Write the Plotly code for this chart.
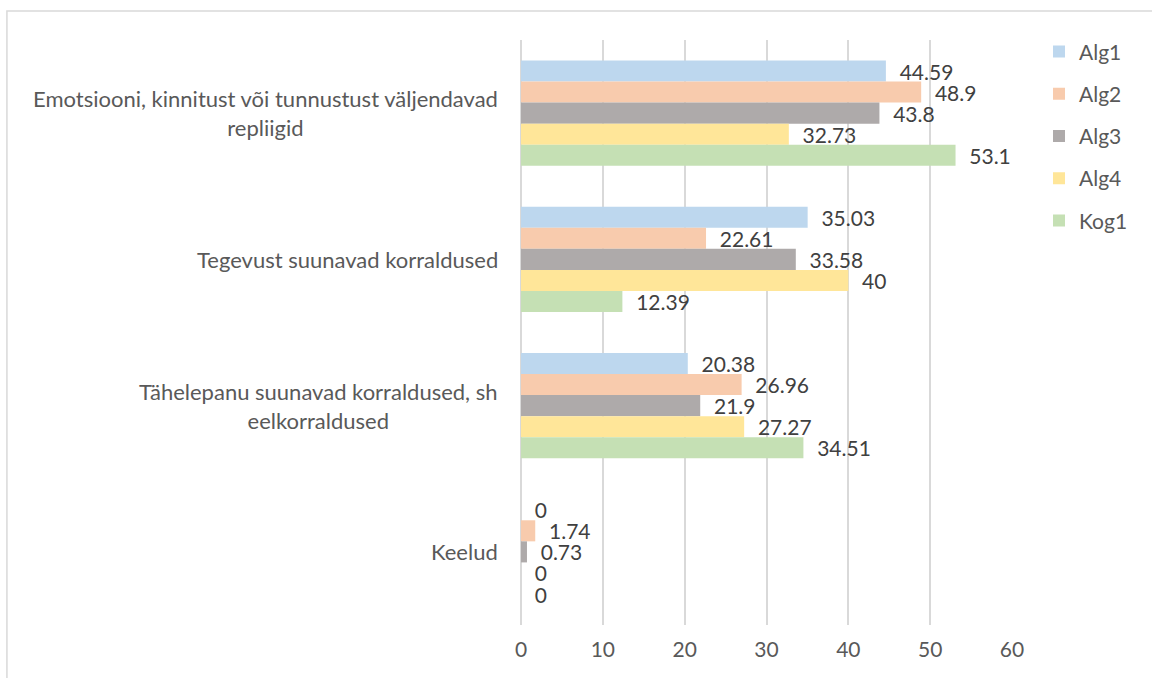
import plotly.graph_objects as go

# Categories (top to bottom) and series values
categories = [
    "Emotsiooni, kinnitust või tunnustust väljendavad<br>repliigid",
    "Tegevust suunavad korraldused",
    "Tähelepanu suunavad korraldused, sh<br>eelkorraldused",
    "Keelud",
]
series_names = ["Alg1", "Alg2", "Alg3", "Alg4", "Kog1"]
alg1 = [44.59, 35.03, 20.38, 0]
alg2 = [48.9, 22.61, 26.96, 1.74]
alg3 = [43.8, 33.58, 21.9, 0.73]
alg4 = [32.73, 40, 27.27, 0]
kog1 = [53.1, 12.39, 34.51, 0]
x_ticks = [0, 10, 20, 30, 40, 50, 60]

colors = ["#BDD7EE", "#F8CBAD", "#AEAAAA", "#FFE699", "#C5E0B4"]
FONT = "Lato, Open Sans, sans-serif"
FS = 22

fig = go.Figure()
for name, vals, col in zip(series_names, [alg1, alg2, alg3, alg4, kog1], colors):
    fig.add_trace(go.Bar(
        y=categories,
        x=vals,
        name=name,
        orientation="h",
        marker=dict(color=col, line_width=0),
        text=vals,
        texttemplate="  %{x}",
        textposition="outside",
        constraintext="none",
        textfont=dict(size=FS - 1, color="#404040", family=FONT),
        cliponaxis=False,
        legendgroup=name,
    ))

# category labels as centered multi-line annotations
for cat in categories:
    fig.add_annotation(
        x=-0.043, xref="paper", y=cat, yref="y",
        text=cat, showarrow=False, xanchor="right", align="center",
        font=dict(size=FS, color="#595959", family=FONT),
    )

# thin outer frame
fig.add_shape(type="rect", xref="paper", yref="paper",
              x0=-1.047, x1=1.3, y0=-0.1, y1=1.0496,
              line=dict(color="#D9D9D9", width=1.5))

fig.update_layout(
    width=1152, height=678,
    margin=dict(l=521, r=140, t=40, b=53),
    barmode="group",
    bargap=0.28,
    bargroupgap=0,
    plot_bgcolor="white",
    paper_bgcolor="white",
    font=dict(family=FONT, color="#595959", size=FS),
    legend=dict(
        x=1.055, y=1.015, xanchor="left", yanchor="top",
        font=dict(size=FS - 1, color="#595959", family=FONT),
        traceorder="grouped", tracegroupgap=12,
        itemwidth=30,
    ),
    xaxis=dict(
        range=[0, 60], tickvals=x_ticks,
        showgrid=True, gridcolor="#D9D9D9", gridwidth=1.5,
        zeroline=True, zerolinecolor="#D9D9D9", zerolinewidth=1.5,
        showline=False, ticks="", ticklabelstandoff=10,
        tickfont=dict(size=FS - 1, color="#595959", family=FONT),
    ),
    yaxis=dict(
        autorange="reversed", showticklabels=False,
        showgrid=False, showline=False, ticks="",
    ),
)

fig.write_html("out.html", config={"displayModeBar": False},
               post_script="document.body.style.margin='0';")
